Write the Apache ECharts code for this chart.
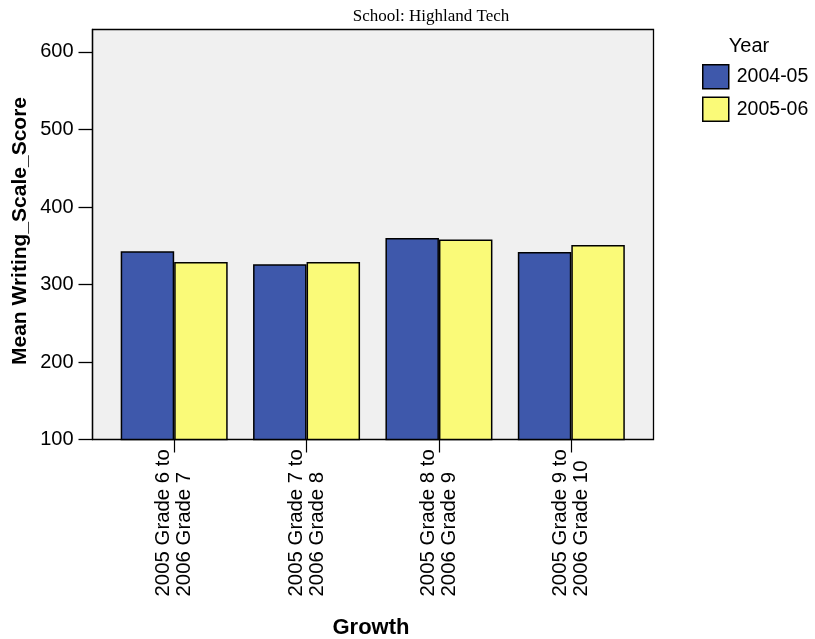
<!DOCTYPE html>
<html>
<head>
<meta charset="utf-8">
<script src="https://cdn.jsdelivr.net/npm/echarts@6/dist/echarts.min.js"></script>
<style>html,body{margin:0;padding:0;background:#fff}#c{width:815px;height:639px}</style>
</head>
<body>
<div id="c"></div>
<script>
const categories = ['2005 Grade 6 to\n2006 Grade 7', '2005 Grade 7 to\n2006 Grade 8', '2005 Grade 8 to\n2006 Grade 9', '2005 Grade 9 to\n2006 Grade 10'];
const seriesNames = ['2004-05', '2005-06'];
const values2004 = [343, 326, 360, 342];
const values2005 = [329, 329, 358, 351];
const yTicks = [100, 200, 300, 400, 500, 600];

const FONT = 'Liberation Sans, Arial, sans-serif';
const chart = echarts.init(document.getElementById('c'), null, {renderer: 'canvas'});
const yMin = 100, yMax = 629;
chart.setOption({
  animation: false,
  backgroundColor: '#ffffff',
  grid: [
    {left: 92.5, right: 161.5, top: 29.5, bottom: 199.5, show: true, backgroundColor: '#f0f0f0', borderColor: '#000', borderWidth: 1.3, containLabel: false},
    {left: 108, right: 177.5, top: 29.5, bottom: 199.5, containLabel: false}
  ],
  xAxis: [
    {gridIndex: 0, type: 'value', show: false, min: 0, max: 1},
    {gridIndex: 1, type: 'category', data: categories,
     axisLine: {show: false},
     axisTick: {show: true, alignWithLabel: true, length: 13, lineStyle: {color: '#000', width: 1.2}},
     axisLabel: {rotate: 90, align: 'left', margin: 157, color: '#000', fontFamily: FONT, fontSize: 20.4, lineHeight: 21}}
  ],
  yAxis: [
    {gridIndex: 0, type: 'value', min: yMin, max: yMax,
     axisLine: {show: true, lineStyle: {color: '#000', width: 1.3}},
     axisTick: {show: true, length: 14, customValues: yTicks, lineStyle: {color: '#000', width: 1.3}},
     axisLabel: {margin: 19, customValues: yTicks, color: '#000', fontFamily: FONT, fontSize: 20},
     splitLine: {show: false}},
    {gridIndex: 1, type: 'value', min: yMin, max: yMax, show: false, splitLine: {show: false}}
  ],
  legend: {
    orient: 'vertical', left: 702, top: 64, padding: 0, itemWidth: 26, itemHeight: 24, itemGap: 7,
    icon: 'rect', data: seriesNames,
    textStyle: {color: '#000', fontFamily: FONT, fontSize: 19.5, padding: [0, 0, 0, 3]},
    itemStyle: {borderColor: '#000', borderWidth: 1.5}
  },
  series: [
    {name: seriesNames[0], type: 'bar', xAxisIndex: 1, yAxisIndex: 1, data: values2004, barWidth: 53.5, barGap: '0%',
     itemStyle: {color: '#3e58ab', borderColor: '#000', borderWidth: 1.5}},
    {name: seriesNames[1], type: 'bar', xAxisIndex: 1, yAxisIndex: 1, data: values2005, barWidth: 53.5, barGap: '0%',
     itemStyle: {color: '#fafa78', borderColor: '#000', borderWidth: 1.5}}
  ],
  graphic: [
    {type: 'text', position: [431, 17], style: {text: 'School: Highland Tech', font: '17px "Liberation Serif", "Times New Roman", serif', fill: '#000', textAlign: 'center', textVerticalAlign: 'middle'}},
    {type: 'text', position: [20, 231], rotation: Math.PI / 2, style: {text: 'Mean Writing_Scale_Score', font: 'bold 21px "Liberation Sans", Arial, sans-serif', fill: '#000', textAlign: 'center', textVerticalAlign: 'middle'}},
    {type: 'text', position: [371, 628], style: {text: 'Growth', font: 'bold 22px "Liberation Sans", Arial, sans-serif', fill: '#000', textAlign: 'center', textVerticalAlign: 'middle'}},
    {type: 'text', position: [749, 46], style: {text: 'Year', font: '20px "Liberation Sans", Arial, sans-serif', fill: '#000', textAlign: 'center', textVerticalAlign: 'middle'}}
  ]
});
</script>
</body>
</html>
